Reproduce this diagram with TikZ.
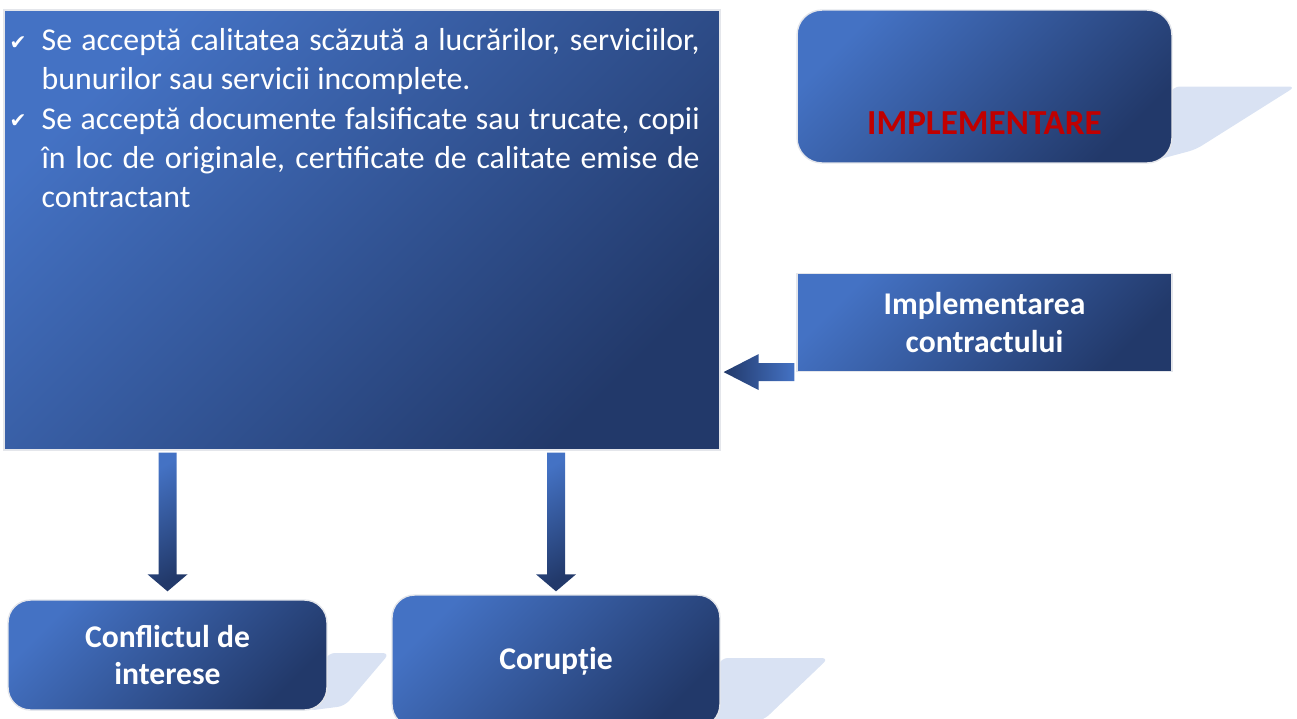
\documentclass[tikz,border=0pt]{standalone}
\usepackage{fontspec}
\setmainfont{Carlito}
\newfontfamily\symfont{DejaVu Sans}
\usetikzlibrary{positioning, calc, backgrounds}

\definecolor{boxlight}{HTML}{4472C4}
\definecolor{boxdark}{HTML}{22396A}
\definecolor{shadowblue}{HTML}{D9E2F3}
\definecolor{rimgray}{HTML}{E4E6EB}
\definecolor{titlered}{HTML}{C00000}

\newcommand{\chk}{\makebox[0.64cm][l]{\raisebox{1pt}{\symfont\fontsize{11.5}{11.5}\selectfont ✔}}}

\begin{document}
\begin{tikzpicture}[x=0.02cm, y=-0.02cm,
        panel/.style={rectangle, top color=boxlight, bottom color=boxdark, shading angle=45, draw=rimgray, line width=0.8pt, inner sep=0pt},
        roundpanel/.style={panel, rounded corners=0.45cm},
        headtext/.style={text=white, font=\bfseries\fontsize{18}{21.5}\selectfont, align=center},
        listtext/.style={text=white, text width=13.8cm, inner sep=0pt, align=justify, font=\fontsize{18.1}{22.3}\selectfont},
        arrowshade/.style={top color=boxlight, bottom color=boxdark, shading angle=30},
        shadowfill/.style={fill=shadowblue, rounded corners=4pt}
    ]
        \useasboundingbox (0,0) rectangle (1297,718);

        % boxes
        \node[panel, minimum width=14.32cm, minimum height=8.8cm] (big) at (362,230) {};
        \node[roundpanel, minimum width=7.5cm, minimum height=3.06cm, rounded corners=0.5cm] (impl) at (984.5,86.5) {};
        \node[panel, headtext, minimum width=7.5cm, minimum height=1.96cm, below=2.18cm of impl] (contract) {Implementarea\\contractului};
        \node[roundpanel, headtext, minimum width=6.38cm, minimum height=2.2cm] (conf) at (167.5,655) {Conflictul de\\interese};
        \node[roundpanel, headtext, minimum width=6.56cm, minimum height=2.64cm] (cor) at (556,661) {Corupție};

        \node[text=titlered, font=\bfseries\fontsize{20}{24}\selectfont] (impltitle) at ($(impl.center)+(0,37)$) {IMPLEMENTARE};

        \node[listtext, anchor=north west] (items) at ($(big.north west)+(6,19)$) {%
            \hyphenpenalty=10000
            \hangindent=0.64cm\hangafter=1\noindent\chk Se acceptă calitatea scăzută a lucrărilor, serviciilor,\linebreak bunurilor sau servicii incomplete.\par
            \hangindent=0.64cm\hangafter=1\noindent\chk Se acceptă documente falsificate sau trucate, copii\linebreak în loc de originale, certificate de calitate emise de\linebreak contractant\par};

        % shadows behind the rounded boxes
        \begin{scope}[on background layer]
            \fill[shadowfill] (impl.east) -- ++(123,0) -- ++(-100,63) -- ($(impl.south east)+(-30,0)$) -- cycle;
            \fill[shadowfill] ($(conf.east)+(0,-2)$) -- ++(62,0) -- ++(-45,53) -- ($(conf.south east)+(-20,0)$) -- cycle;
            \fill[shadowfill] ($(cor.east)+(0,-3)$) -- ++(108,0) -- ++(-65,62) -- ($(cor.south east)+(-20,0)$) -- cycle;
        \end{scope}

        % block arrows
        \coordinate (a1top) at (big.south -| conf.north);
        \coordinate (a1tip) at ($(conf.north)+(0,-8)$);
        \coordinate (a2top) at (big.south -| cor.north);
        \coordinate (a2tip) at ($(cor.north)+(0,-3)$);
        \coordinate (a3start) at (contract.south west);
        \coordinate (a3tip) at ($(contract.south west -| big.east)+(3,0)$);

        \shade[arrowshade] ($(a1top)+(-9,2)$) -- ($(a1tip)+(-9,-17)$) -- ($(a1tip)+(-20,-17)$) -- (a1tip) -- ($(a1tip)+(20,-17)$) -- ($(a1tip)+(9,-17)$) -- ($(a1top)+(9,2)$) -- cycle;
        \shade[arrowshade] ($(a2top)+(-9,2)$) -- ($(a2tip)+(-9,-17)$) -- ($(a2tip)+(-20,-17)$) -- (a2tip) -- ($(a2tip)+(20,-17)$) -- ($(a2tip)+(9,-17)$) -- ($(a2top)+(9,2)$) -- cycle;
        \shade[left color=boxdark, right color=boxlight] ($(a3start)+(-2,-9)$) -- ($(a3tip)+(35,-9)$) -- ($(a3tip)+(35,-18)$) -- (a3tip) -- ($(a3tip)+(35,18)$) -- ($(a3tip)+(35,9)$) -- ($(a3start)+(-2,9)$) -- cycle;
    \end{tikzpicture}
\end{document}
